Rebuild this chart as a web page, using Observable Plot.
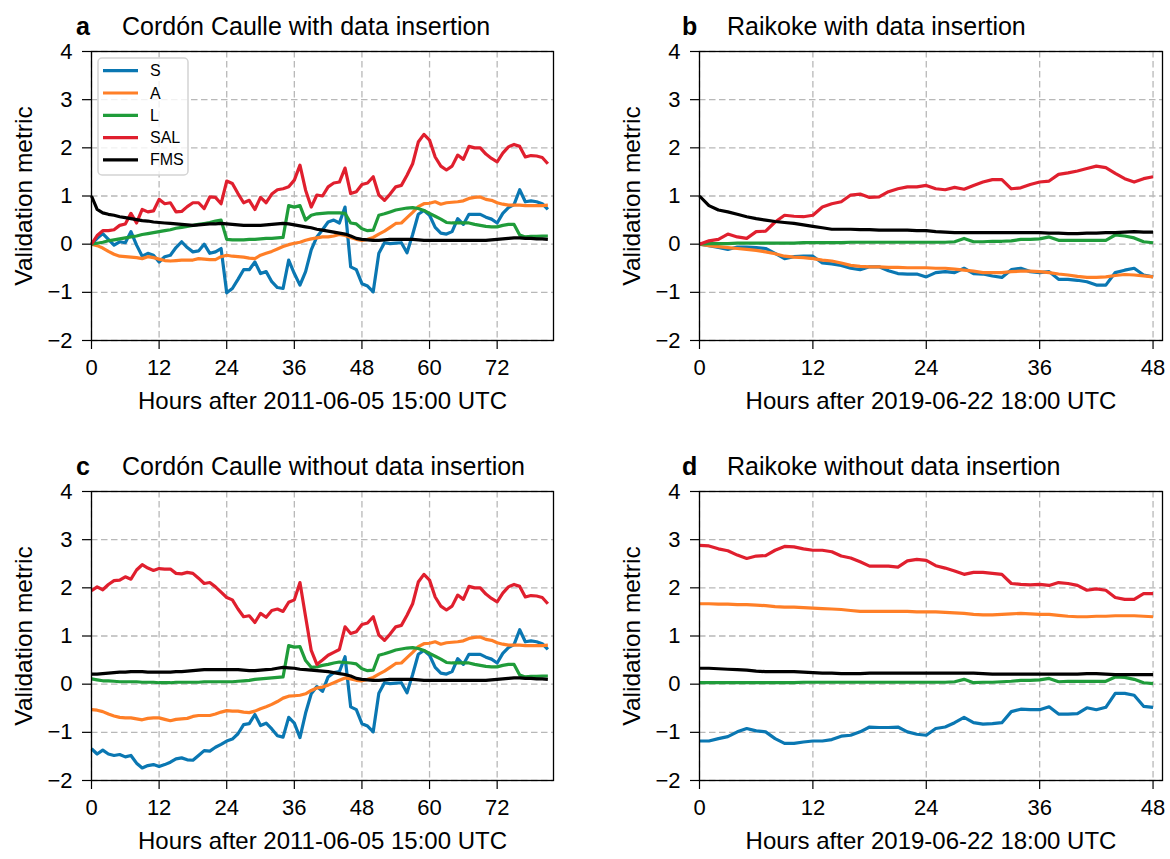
<!DOCTYPE html>
<html><head><meta charset="utf-8">
<script src="https://cdn.jsdelivr.net/npm/d3@7"></script>
<script src="https://cdn.jsdelivr.net/npm/@observablehq/plot@0.6"></script>
<style>
body{margin:0;background:#fff;}
#fig{position:relative;width:1170px;height:859px;overflow:hidden;background:#fff;font-family:"Liberation Sans",Arial,sans-serif;}
#fig svg.plot{position:absolute;}
#overlay{position:absolute;left:0;top:0;pointer-events:none;}
</style></head><body><div id="fig"></div>
<script>
// ---------- data ----------
const seriesNames = ["S", "A", "L", "SAL", "FMS"];
const seriesColors = ["#0a77b2", "#ff7f27", "#1f9c3a", "#e01f2e", "#000000"];
const yTicks = [-2, -1, 0, 1, 2, 3, 4];
const xTicksCC = [0, 12, 24, 36, 48, 60, 72];
const xTicksRK = [0, 12, 24, 36, 48];
const xLabelCC = "Hours after 2011-06-05 15:00 UTC";
const xLabelRK = "Hours after 2019-06-22 18:00 UTC";
const titles = ["Cordón Caulle with data insertion", "Raikoke with data insertion",
                "Cordón Caulle without data insertion", "Raikoke without data insertion"];
const panelLetters = ["a", "b", "c", "d"];

const hoursCC = [0,1,2,3,4,5,6,7,8,9,10,11,12,13,14,15,16,17,18,19,20,21,22,23,24,25,26,27,28,29,30,31,32,33,34,35,36,37,38,39,40,41,42,43,44,45,46,47,48,49,50,51,52,53,54,55,56,57,58,59,60,61,62,63,64,65,66,67,68,69,70,71,72,73,74,75,76,77,78,79,80,81];
const hoursRK = [0,1,2,3,4,5,6,7,8,9,10,11,12,13,14,15,16,17,18,19,20,21,22,23,24,25,26,27,28,29,30,31,32,33,34,35,36,37,38,39,40,41,42,43,44,45,46,47,48];

// panel a: Cordón Caulle with data insertion
const aS = [0,0.12,0.22,0.1,-0.02,0.05,0.03,0.26,-0.02,-0.25, -0.19,-0.23,-0.37,-0.26,-0.23,-0.07,0.05,-0.07,-0.16,-0.14, 0,-0.19,-0.16,-0.09,-1.01,-0.92,-0.73,-0.53,-0.53,-0.37, -0.61,-0.57,-0.78,-0.9,-0.92,-0.33,-0.61,-0.85,-0.57,-0.12, 0.15,0.3,0.46,0.5,0.44,0.77,-0.47,-0.53,-0.82,-0.87, -0.99,-0.19,0.03,0.01,0.02,0.03,-0.18,0.2,0.62,0.7, 0.6,0.35,0.23,0.21,0.26,0.53,0.41,0.62,0.62,0.62, 0.56,0.52,0.44,0.64,0.76,0.82,1.13,0.88,0.9,0.88, 0.84,0.72];
const aA = [0,-0.03,-0.08,-0.15,-0.21,-0.25,-0.26,-0.27,-0.28,-0.3, -0.26,-0.28,-0.31,-0.34,-0.35,-0.34,-0.33,-0.33,-0.33,-0.3, -0.31,-0.32,-0.32,-0.26,-0.23,-0.25,-0.26,-0.27,-0.29,-0.3, -0.23,-0.19,-0.15,-0.1,-0.05,-0.01,0.02,0.04,0.08,0.11, 0.13,0.15,0.15,0.17,0.2,0.18,0.14,0.1,0.08,0.1, 0.14,0.21,0.27,0.35,0.43,0.44,0.55,0.66,0.78,0.84, 0.85,0.88,0.83,0.86,0.87,0.88,0.9,0.95,0.97,0.98, 0.93,0.91,0.86,0.83,0.81,0.81,0.81,0.8,0.8,0.8, 0.8,0.81];
const aL = [0,0.02,0.04,0.07,0.09,0.11,0.13,0.15,0.17,0.2, 0.22,0.24,0.26,0.28,0.3,0.33,0.35,0.37,0.39,0.41, 0.43,0.45,0.48,0.5,0.1,0.09,0.09,0.09,0.1,0.1, 0.11,0.12,0.12,0.13,0.14,0.8,0.77,0.8,0.5,0.6, 0.63,0.64,0.65,0.65,0.65,0.64,0.44,0.42,0.32,0.28, 0.29,0.6,0.63,0.67,0.71,0.73,0.75,0.76,0.74,0.7, 0.64,0.58,0.52,0.45,0.44,0.44,0.44,0.44,0.41,0.39, 0.37,0.36,0.36,0.39,0.41,0.41,0.19,0.15,0.16,0.16, 0.17,0.17];
const aSAL = [0,0.18,0.28,0.28,0.3,0.39,0.42,0.64,0.44,0.72, 0.67,0.69,0.93,0.84,0.86,0.67,0.68,0.78,0.86,0.86, 0.74,0.98,0.97,0.84,1.31,1.26,1.05,0.86,0.91,0.72, 0.97,0.86,1.04,1.13,1.15,1.19,1.33,1.64,1.12,0.77, 1.02,1.0,1.19,1.27,1.29,1.58,1.05,1.09,1.24,1.27, 1.4,1.02,0.91,1.04,1.19,1.22,1.43,1.67,2.12,2.28, 2.16,1.81,1.62,1.54,1.62,1.85,1.76,2.03,2.0,2.0, 1.87,1.78,1.71,1.89,2.02,2.07,2.03,1.81,1.84,1.83, 1.8,1.67];
const aFMS = [1.0,0.72,0.65,0.62,0.6,0.57,0.55,0.53,0.51,0.49, 0.48,0.46,0.45,0.44,0.43,0.42,0.41,0.4,0.39,0.4, 0.41,0.42,0.42,0.43,0.42,0.41,0.4,0.39,0.39,0.39, 0.39,0.4,0.41,0.42,0.43,0.42,0.4,0.38,0.36,0.34, 0.31,0.29,0.27,0.25,0.23,0.21,0.17,0.12,0.1,0.09, 0.08,0.08,0.09,0.1,0.1,0.1,0.1,0.1,0.09,0.08, 0.08,0.08,0.08,0.08,0.08,0.08,0.08,0.08,0.08,0.08, 0.08,0.09,0.1,0.11,0.12,0.13,0.13,0.12,0.12,0.11, 0.11,0.1];

// panel b: Raikoke with data insertion
const bS = [0,-0.03,-0.07,-0.11,-0.06,-0.06,-0.07,-0.09,-0.19,-0.3, -0.26,-0.25,-0.25,-0.39,-0.41,-0.44,-0.5,-0.53,-0.47,-0.47, -0.55,-0.61,-0.62,-0.62,-0.68,-0.59,-0.57,-0.59,-0.5,-0.61, -0.62,-0.66,-0.69,-0.53,-0.5,-0.57,-0.59,-0.57,-0.73,-0.73, -0.75,-0.78,-0.85,-0.85,-0.59,-0.54,-0.5,-0.64,-0.68];
const bA = [0,-0.03,-0.05,-0.07,-0.09,-0.11,-0.13,-0.16,-0.2,-0.25, -0.27,-0.28,-0.3,-0.33,-0.35,-0.39,-0.44,-0.46,-0.47,-0.47, -0.48,-0.48,-0.49,-0.49,-0.49,-0.5,-0.5,-0.52,-0.54,-0.56, -0.59,-0.59,-0.59,-0.57,-0.56,-0.56,-0.57,-0.59,-0.62,-0.64, -0.67,-0.69,-0.69,-0.68,-0.65,-0.63,-0.64,-0.66,-0.68];
const bL = [0,0.01,0.01,0.01,0.02,0.02,0.02,0.02,0.02,0.02, 0.02,0.03,0.03,0.03,0.03,0.03,0.04,0.04,0.04,0.04, 0.04,0.04,0.04,0.04,0.04,0.04,0.04,0.05,0.12,0.05, 0.05,0.06,0.06,0.07,0.1,0.1,0.11,0.15,0.08,0.08, 0.08,0.08,0.08,0.08,0.19,0.17,0.13,0.05,0.03];
const bSAL = [0,0.07,0.1,0.21,0.15,0.12,0.26,0.27,0.46,0.6, 0.58,0.57,0.6,0.77,0.84,0.88,1.02,1.04,0.97,0.98, 1.09,1.15,1.19,1.19,1.22,1.15,1.13,1.18,1.14,1.22, 1.29,1.34,1.34,1.15,1.17,1.24,1.29,1.31,1.45,1.48, 1.52,1.57,1.62,1.59,1.47,1.36,1.29,1.36,1.4];
const bFMS = [1.0,0.8,0.71,0.67,0.62,0.57,0.53,0.5,0.47,0.45, 0.43,0.4,0.37,0.34,0.31,0.31,0.31,0.3,0.3,0.29, 0.29,0.29,0.29,0.28,0.28,0.26,0.25,0.24,0.24,0.24, 0.24,0.24,0.24,0.24,0.24,0.24,0.24,0.23,0.23,0.22, 0.22,0.23,0.23,0.24,0.24,0.25,0.26,0.25,0.25];

// panel c: Cordón Caulle without data insertion
const cS = [-1.34,-1.45,-1.37,-1.45,-1.48,-1.46,-1.51,-1.48,-1.64,-1.74, -1.69,-1.67,-1.71,-1.67,-1.62,-1.55,-1.53,-1.57,-1.58,-1.48, -1.38,-1.39,-1.31,-1.25,-1.18,-1.14,-1.03,-0.84,-0.82,-0.63, -0.86,-0.81,-0.93,-1.07,-1.1,-0.69,-0.81,-1.11,-0.6,-0.2, -0.05,-0.15,0.15,0.24,0.26,0.57,-0.47,-0.53,-0.82,-0.87, -0.99,-0.19,0.03,0.01,0.02,0.03,-0.18,0.2,0.62,0.7, 0.6,0.35,0.23,0.21,0.26,0.53,0.41,0.62,0.62,0.62, 0.56,0.52,0.44,0.64,0.76,0.82,1.13,0.88,0.9,0.88, 0.84,0.72];
const cA = [-0.53,-0.54,-0.57,-0.62,-0.66,-0.69,-0.7,-0.7,-0.72,-0.74, -0.71,-0.7,-0.7,-0.73,-0.76,-0.73,-0.72,-0.71,-0.67,-0.65, -0.65,-0.65,-0.62,-0.58,-0.55,-0.56,-0.56,-0.58,-0.59,-0.56, -0.51,-0.47,-0.42,-0.36,-0.29,-0.25,-0.24,-0.23,-0.2,-0.13, -0.08,-0.06,-0.02,0.03,0.08,0.13,0.11,0.08,0.07,0.1, 0.14,0.21,0.27,0.35,0.43,0.44,0.55,0.66,0.78,0.84, 0.85,0.88,0.83,0.86,0.87,0.88,0.9,0.95,0.97,0.98, 0.93,0.91,0.86,0.83,0.81,0.81,0.81,0.8,0.8,0.8, 0.8,0.81];
const cL = [0.11,0.09,0.07,0.07,0.06,0.05,0.05,0.05,0.05,0.04, 0.04,0.04,0.03,0.03,0.03,0.04,0.04,0.04,0.04,0.04, 0.05,0.05,0.05,0.05,0.05,0.05,0.06,0.07,0.08,0.1, 0.11,0.12,0.13,0.14,0.15,0.8,0.77,0.78,0.49,0.35, 0.36,0.39,0.41,0.44,0.46,0.45,0.44,0.42,0.32,0.28, 0.29,0.6,0.63,0.67,0.71,0.73,0.75,0.76,0.74,0.7, 0.64,0.58,0.52,0.45,0.44,0.44,0.44,0.44,0.41,0.39, 0.37,0.36,0.36,0.39,0.41,0.41,0.19,0.15,0.16,0.16, 0.17,0.17];
const cSAL = [1.94,2.02,1.96,2.07,2.15,2.16,2.23,2.18,2.37,2.48, 2.41,2.36,2.4,2.39,2.39,2.3,2.29,2.32,2.3,2.2, 2.09,2.11,2.02,1.91,1.8,1.75,1.56,1.4,1.42,1.28, 1.47,1.39,1.53,1.56,1.51,1.7,1.75,2.11,1.4,0.7, 0.41,0.5,0.6,0.66,0.72,1.19,1.05,1.09,1.24,1.27, 1.4,1.02,0.91,1.04,1.19,1.22,1.43,1.67,2.12,2.28, 2.16,1.81,1.62,1.54,1.62,1.85,1.76,2.03,2.0,2.0, 1.87,1.78,1.71,1.89,2.02,2.07,2.03,1.81,1.84,1.83, 1.8,1.67];
const cFMS = [0.21,0.21,0.22,0.23,0.24,0.25,0.25,0.26,0.26,0.26, 0.25,0.25,0.25,0.25,0.25,0.26,0.26,0.27,0.28,0.29, 0.3,0.3,0.3,0.3,0.3,0.3,0.3,0.29,0.28,0.28, 0.29,0.3,0.31,0.33,0.35,0.34,0.33,0.31,0.3,0.29, 0.28,0.27,0.26,0.24,0.22,0.2,0.17,0.12,0.1,0.09, 0.08,0.08,0.09,0.1,0.1,0.1,0.1,0.1,0.09,0.08, 0.08,0.08,0.08,0.08,0.08,0.08,0.08,0.08,0.08,0.08, 0.08,0.09,0.1,0.11,0.12,0.13,0.13,0.12,0.12,0.11, 0.11,0.1];

// panel d: Raikoke without data insertion
const dS = [-1.18,-1.18,-1.13,-1.09,-0.99,-0.92,-0.97,-0.99,-1.13,-1.23, -1.23,-1.2,-1.18,-1.18,-1.15,-1.08,-1.06,-0.99,-0.89,-0.9, -0.9,-0.89,-0.99,-1.04,-1.06,-0.92,-0.89,-0.8,-0.69,-0.8, -0.83,-0.82,-0.8,-0.57,-0.52,-0.53,-0.53,-0.47,-0.62,-0.62, -0.61,-0.49,-0.53,-0.48,-0.19,-0.19,-0.23,-0.46,-0.48];
const dA = [1.67,1.67,1.66,1.66,1.65,1.65,1.64,1.63,1.61,1.6, 1.6,1.59,1.58,1.57,1.56,1.55,1.53,1.51,1.51,1.51, 1.51,1.51,1.51,1.5,1.5,1.5,1.49,1.48,1.47,1.45, 1.44,1.44,1.45,1.46,1.47,1.46,1.45,1.45,1.43,1.41, 1.4,1.4,1.41,1.41,1.42,1.42,1.42,1.41,1.4];
const dL = [0.03,0.03,0.03,0.03,0.03,0.03,0.03,0.03,0.03,0.03, 0.03,0.04,0.04,0.04,0.04,0.04,0.04,0.04,0.04,0.04, 0.04,0.04,0.04,0.04,0.04,0.04,0.04,0.05,0.1,0.03, 0.04,0.04,0.05,0.06,0.08,0.08,0.09,0.12,0.05,0.06, 0.06,0.06,0.06,0.06,0.15,0.14,0.1,0.03,0.01];
const dSAL = [2.88,2.87,2.81,2.77,2.68,2.61,2.66,2.67,2.78,2.86, 2.85,2.81,2.78,2.78,2.75,2.66,2.62,2.54,2.45,2.45, 2.45,2.43,2.56,2.59,2.57,2.46,2.41,2.35,2.28,2.32, 2.32,2.3,2.28,2.09,2.07,2.06,2.07,2.05,2.11,2.09, 2.05,1.95,1.98,1.95,1.8,1.76,1.76,1.88,1.88];
const dFMS = [0.33,0.33,0.32,0.31,0.3,0.29,0.27,0.26,0.26,0.26, 0.26,0.25,0.24,0.23,0.23,0.22,0.22,0.22,0.23,0.23, 0.23,0.23,0.23,0.23,0.23,0.23,0.23,0.23,0.23,0.23, 0.22,0.21,0.21,0.21,0.21,0.21,0.21,0.21,0.21,0.21, 0.21,0.22,0.22,0.21,0.2,0.2,0.2,0.2,0.2];

// ---------- drawing ----------
const FONT = "Liberation Sans, Arial, Helvetica, sans-serif";
const fig = document.getElementById("fig");

function makePanel(hours, vals, xMax, xTicks, xLabel, ml, mr) {
  const rows = [];
  seriesNames.forEach((name, i) => vals[i].forEach((v, j) => rows.push({hour: hours[j], value: v, series: name})));
  const gridStyle = {stroke: "#b8b8b8", strokeOpacity: 1, strokeWidth: 1.3, strokeDasharray: "6.5,3.5"};
  return Plot.plot({
    width: 585, height: 420,
    marginLeft: ml, marginRight: mr, marginTop: 51, marginBottom: 80,
    style: {fontFamily: FONT, fontSize: "22px", color: "#000", background: "transparent", overflow: "visible"},
    x: {domain: [0, xMax]},
    y: {domain: [-2, 4]},
    color: {domain: seriesNames, range: seriesColors},
    marks: [
      Plot.gridX(xTicks, gridStyle),
      Plot.gridY(yTicks, gridStyle),
      Plot.line(rows, {x: "hour", y: "value", z: "series", stroke: "series", strokeWidth: 3.2, strokeLinejoin: "round", strokeLinecap: "butt"}),
      Plot.frame({stroke: "#000", strokeWidth: 1.3}),
      Plot.axisX(xTicks, {tickSize: 9, tickPadding: 10, fontSize: 22, label: null, stroke: "#000", strokeWidth: 1.2}),
      Plot.axisY(yTicks, {tickSize: 9, tickPadding: 10, fontSize: 22, label: null, stroke: "#000", strokeWidth: 1.2}),
      Plot.axisX([], {tickSize: 0, label: xLabel, labelAnchor: "center", labelOffset: 68, labelArrow: "none", fontSize: 24}),
      Plot.axisY([], {tickSize: 0, label: "Validation metric", labelAnchor: "center", labelOffset: 77, labelArrow: "none", fontSize: 24.5})
    ]
  });
}

const panels = [
  {hours: hoursCC, vals: [aS, aA, aL, aSAL, aFMS], xMax: 82, ticks: xTicksCC, label: xLabelCC, left: 0, top: 0, ml: 91, mr: 32},
  {hours: hoursRK, vals: [bS, bA, bL, bSAL, bFMS], xMax: 49, ticks: xTicksRK, label: xLabelRK, left: 585, top: 0, ml: 114, mr: 8},
  {hours: hoursCC, vals: [cS, cA, cL, cSAL, cFMS], xMax: 82, ticks: xTicksCC, label: xLabelCC, left: 0, top: 440, ml: 91, mr: 32},
  {hours: hoursRK, vals: [dS, dA, dL, dSAL, dFMS], xMax: 49, ticks: xTicksRK, label: xLabelRK, left: 585, top: 440, ml: 114, mr: 8}
];
panels.forEach(p => {
  const svg = makePanel(p.hours, p.vals, p.xMax, p.ticks, p.label, p.ml, p.mr);
  svg.classList.add("plot");
  svg.style.left = p.left + "px";
  svg.style.top = p.top + "px";
  fig.appendChild(svg);
});

// titles and legend overlay
const ns = "http://www.w3.org/2000/svg";
const ov = document.createElementNS(ns, "svg");
ov.setAttribute("id", "overlay");
ov.setAttribute("width", 1170);
ov.setAttribute("height", 859);
fig.appendChild(ov);
function addText(x, y, str, size, weight) {
  const t = document.createElementNS(ns, "text");
  t.setAttribute("x", x); t.setAttribute("y", y);
  t.setAttribute("font-family", FONT);
  t.setAttribute("font-size", size);
  if (weight) t.setAttribute("font-weight", weight);
  t.setAttribute("fill", "#000");
  t.textContent = str;
  ov.appendChild(t);
}
const titlePos = [[76, 122, 35], [682, 727, 35], [76, 122, 475], [682, 727, 475]];
titlePos.forEach(([lx, tx, by], i) => {
  addText(lx, by, panelLetters[i], 25, "bold");
  addText(tx, by, titles[i], 25);
});
// legend box (panel a)
const box = document.createElementNS(ns, "rect");
box.setAttribute("x", 98); box.setAttribute("y", 58);
box.setAttribute("width", 90); box.setAttribute("height", 117);
box.setAttribute("rx", 4);
box.setAttribute("fill", "rgba(255,255,255,0.8)");
box.setAttribute("stroke", "#d4d4d4"); box.setAttribute("stroke-width", 1.5);
ov.appendChild(box);
seriesNames.forEach((name, i) => {
  const cy = 70.7 + i * 22.3;
  const l = document.createElementNS(ns, "line");
  l.setAttribute("x1", 103); l.setAttribute("x2", 138);
  l.setAttribute("y1", cy); l.setAttribute("y2", cy);
  l.setAttribute("stroke", seriesColors[i]); l.setAttribute("stroke-width", 3.2);
  ov.appendChild(l);
  addText(150, cy + 5.5, name, 16);
});
</script></body></html>
